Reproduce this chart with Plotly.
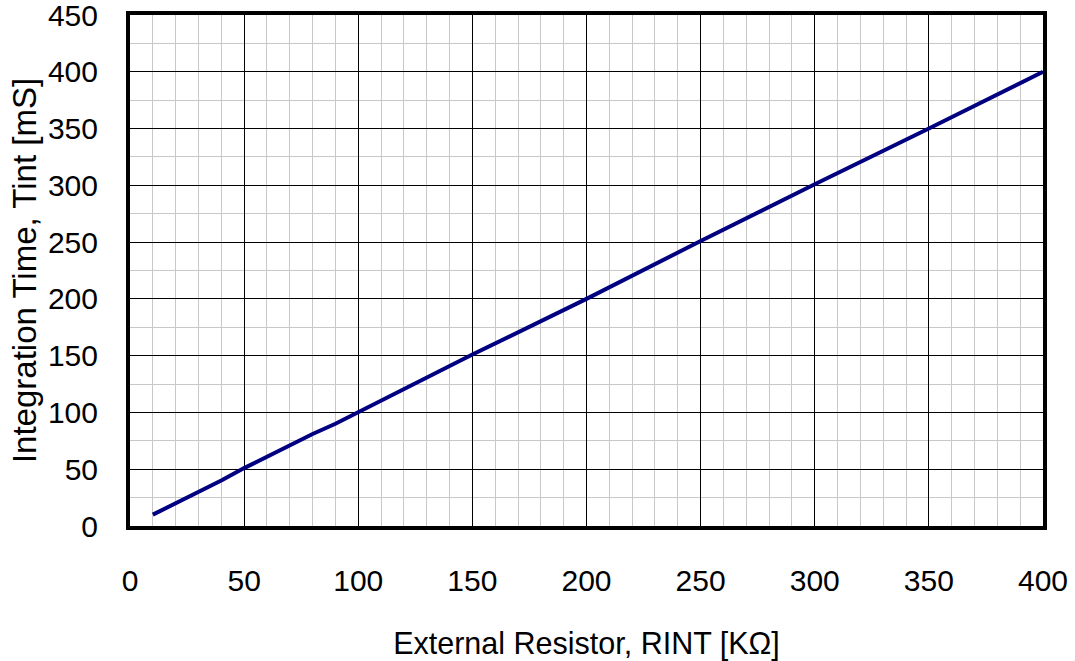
import plotly.graph_objects as go

resistance_kohm = [10, 20, 30, 40, 50, 60, 70, 80, 90, 100, 150, 200, 250, 300, 350, 400]
integration_ms = [10, 20, 30, 40, 51, 61, 71, 81, 90, 100, 151, 200, 251, 301, 350, 400]

x_ticks = [0, 50, 100, 150, 200, 250, 300, 350, 400]
y_ticks = [0, 50, 100, 150, 200, 250, 300, 350, 400, 450]

FONT = "Liberation Sans, Arial, sans-serif"

fig = go.Figure()
fig.add_trace(go.Scatter(
    x=resistance_kohm, y=integration_ms, mode="lines",
    line=dict(color="#000080", width=4), showlegend=False,
))

fig.update_layout(
    width=1075, height=661,
    margin=dict(l=130, r=32, t=15, b=135),
    paper_bgcolor="white", plot_bgcolor="white",
    font=dict(family=FONT, size=30, color="black"),
)
fig.update_xaxes(
    range=[0, 400], tickvals=x_ticks, ticktext=[str(v) for v in x_ticks],
    tickfont=dict(size=30), ticklabeloverflow="allow",
    showgrid=True, gridcolor="black", gridwidth=1,
    minor=dict(dtick=10, showgrid=True, gridcolor="#c8c8c8", gridwidth=1),
    showline=True, linecolor="black", linewidth=4, mirror=True,
    ticks="", ticklabelstandoff=25,
    zeroline=False, automargin=False,
    title=dict(text="External Resistor, RINT [KΩ]", standoff=38, font=dict(size=30.5)),
)
fig.update_yaxes(
    range=[0, 450], tickvals=y_ticks, ticktext=[str(v) for v in y_ticks],
    tickfont=dict(size=30), ticklabeloverflow="allow",
    showgrid=True, gridcolor="black", gridwidth=1,
    minor=dict(dtick=25, showgrid=True, gridcolor="#c8c8c8", gridwidth=1),
    showline=True, linecolor="black", linewidth=4, mirror=True,
    ticks="", ticklabelstandoff=22,
    zeroline=False, automargin=False,
    title=dict(text="Integration Time, Tint [mS]", standoff=2, font=dict(size=33)),
)

fig.write_html("out.html")
